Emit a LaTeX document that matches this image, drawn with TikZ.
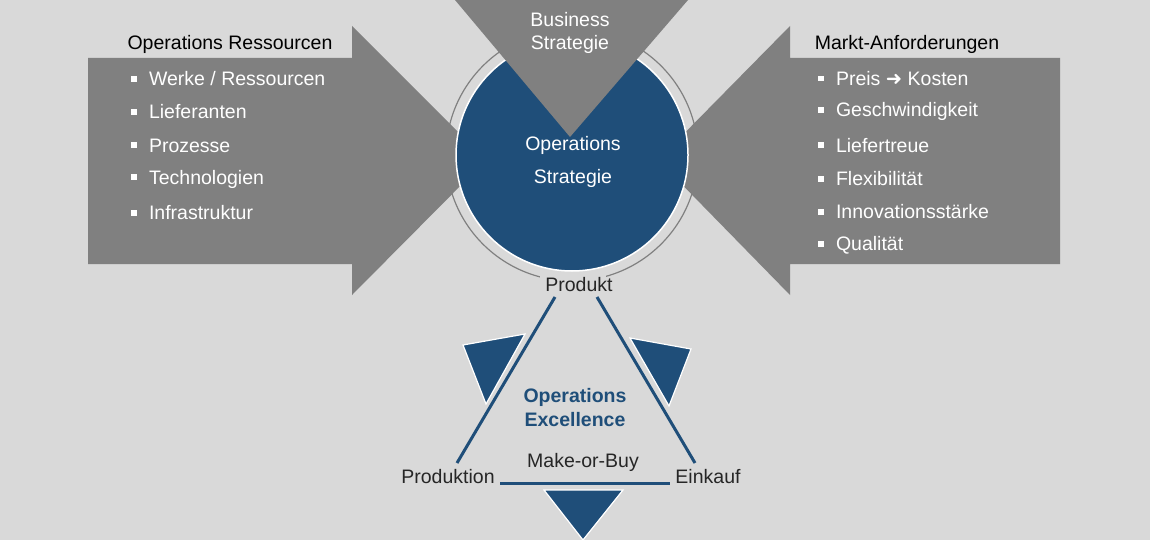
\documentclass[tikz,border=0pt]{standalone}
\usepackage{fontspec}
\setmainfont{Liberation Sans}
\newfontfamily\symfont{DejaVu Sans}
\usetikzlibrary{positioning}
\definecolor{bgGray}{HTML}{D9D9D9}
\definecolor{arrGray}{HTML}{808080}
\definecolor{opsBlue}{HTML}{1F4E79}
\tikzset{
  lbl/.style={font=\fontsize{19.5}{23}\selectfont, text=black, inner sep=0pt},
  wlbl/.style={font=\fontsize{19.5}{23}\selectfont, text=white, inner sep=0pt, align=center},
  item/.style={wlbl, anchor=west},
  corner/.style={lbl, text=black!85},
  bluetri/.style={fill=opsBlue, draw=white, line width=1.2pt}
}
\newcommand{\bul}{\rule[0.2em]{0.3em}{0.3em}}
\begin{document}
\begin{tikzpicture}[x=1pt,y=-1pt]
  \useasboundingbox (0,0) rectangle (1150,540);
  \fill[bgGray] (0,0) rectangle (1150,540);

  % left and right arrows
  \fill[arrGray] (88,58) -- (352,58) -- (352,26) -- (486,160) -- (352,295) -- (352,264) -- (88,264) -- cycle;
  \fill[arrGray] (1060,58) -- (790,58) -- (790,26) -- (658,160) -- (790,295) -- (790,264) -- (1060,264) -- cycle;

  % circle with ring
  \draw[arrGray, line width=1.2pt] (572,155) circle (126);
  \fill[bgGray] (540,265) rectangle (606,300);
  \draw[fill=opsBlue, draw=white, line width=1.5pt] (572,155) circle (116);

  % top triangle
  \fill[arrGray] (455,0) -- (688,0) -- (570,137) -- cycle;
  \node[wlbl] (biz) at (570,33) {Business\\Strategie};
  \node[wlbl] (ops) at (573,162) {Operations\\[10pt]Strategie};

  % left list
  \node[lbl] (resHead) at (230,44) {Operations Ressourcen};
  \foreach \t [count=\i] in {Werke / Ressourcen, Lieferanten, Prozesse, Technologien, Infrastruktur}
    \node[item] (res\i) at (131,45+33.5*\i) {\bul\hspace{12pt}\t};

  % right list
  \node[lbl] (mktHead) at (907,44) {Markt-Anforderungen};
  \foreach \t [count=\i] in {Preis {\symfont ➜} Kosten, Geschwindigkeit, Liefertreue, Flexibilität, Innovationsstärke, Qualität}
    \node[item] (mkt\i) at (818,45+33.4*\i) {\bul\hspace{12pt}\t};

  % triangle
  \node[corner] (prod) at (579,285) {Produkt};
  \node[corner] (fert) at (448,477) {Produktion};
  \node[corner] (eink) at (708,477) {Einkauf};
  \node[corner] (mob) at (583,462) {Make-or-Buy};
  \node[font=\bfseries\fontsize{19.5}{24}\selectfont, text=opsBlue, align=center] (exc) at (575,408) {Operations\\Excellence};

  \draw[opsBlue, line width=3pt] (555,297) -- (457,463);
  \draw[opsBlue, line width=3pt] (597,297) -- (695,463);
  \draw[opsBlue, line width=3pt] (500,483) -- (670,483);

  \draw[bluetri] (463,345) -- (525,334) -- (486,404) -- cycle;
  \draw[bluetri] (630,338) -- (691,349) -- (669,406) -- cycle;
  \draw[bluetri] (544,490) -- (623,490) -- (583,540) -- cycle;
\end{tikzpicture}
\end{document}
